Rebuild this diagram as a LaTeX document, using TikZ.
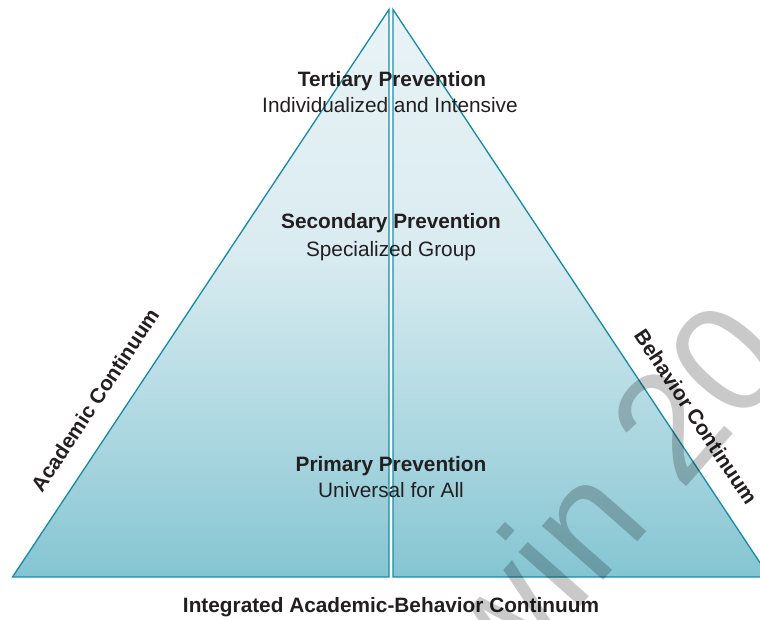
\documentclass[tikz,border=0pt]{standalone}
\usepackage{fontspec}
\setmainfont{Liberation Sans}
\definecolor{edge}{RGB}{24,140,166}
\definecolor{ink}{RGB}{35,31,32}
\definecolor{pyrT}{RGB}{233,243,246}
\definecolor{pyrM}{RGB}{218,236,241}
\definecolor{pyrL}{RGB}{163,211,221}
\definecolor{pyrB}{RGB}{132,197,210}
% vertical fill of the two pyramid halves (path box = 25bp..75bp)
\pgfdeclareverticalshading{pyramidfill}{100bp}{color(0bp)=(pyrB); color(25bp)=(pyrB); color(34.5bp)=(pyrL); color(54bp)=(pyrM); color(75bp)=(pyrT); color(100bp)=(pyrT)}
\begin{document}
\begin{tikzpicture}[x=0.75pt,y=-0.75pt,
  half/.style={draw=edge, line width=1pt, shading=pyramidfill},
  tiertitle/.style={font=\bfseries\fontsize{15.6}{18}\selectfont, text=ink, anchor=base, inner sep=0pt},
  tiersub/.style={font=\fontsize{15.6}{18}\selectfont, text=ink, anchor=base, inner sep=0pt},
  sidelabel/.style={font=\bfseries\fontsize{15.6}{18}\selectfont, text=ink, inner sep=0pt},
  watermark/.style={font=\fontsize{116}{130}\selectfont, text=black, text opacity=0.21, inner sep=0pt}]
\useasboundingbox (0,0) rectangle (760,620);
\clip (0,0) rectangle (760,620);

% corners of the two halves
\coordinate (apexL) at (389,9.5);
\coordinate (baseL) at (12.5,577);
\coordinate (midL)  at (389,577);
\coordinate (apexR) at (393,9.5);
\coordinate (midR)  at (393,577);
\coordinate (baseR) at (769.5,577);

% academic half and behavior half
\path[half] (apexL) -- (baseL) -- (midL) -- cycle;
\path[half] (apexR) -- (midR) -- (baseR) -- cycle;

% tiers
\node[tiertitle] (tert) at (392,87) {Tertiary Prevention};
\node[tiersub]   (tertsub) at (390,113) {Individualized and Intensive};
\node[tiertitle] (sec) at (391,229) {Secondary Prevention};
\node[tiersub]   (secsub) at (391,257) {Specialized Group};
\node[tiertitle] (prim) at (391,471) {Primary Prevention};
\node[tiersub]   (primsub) at (391,497) {Universal for All};

% continua
\node[sidelabel, rotate=56.5]  (acad) at (95,400) {Academic Continuum};
\node[sidelabel, rotate=-56.5] (behav) at (696,417) {Behavior Continuum};
\node[tiertitle] (integ) at (391,612) {Integrated Academic-Behavior Continuum};

% publisher mark
\node[watermark, rotate=48.5] (wm) at (606,494) {win 20};
\end{tikzpicture}
\end{document}
